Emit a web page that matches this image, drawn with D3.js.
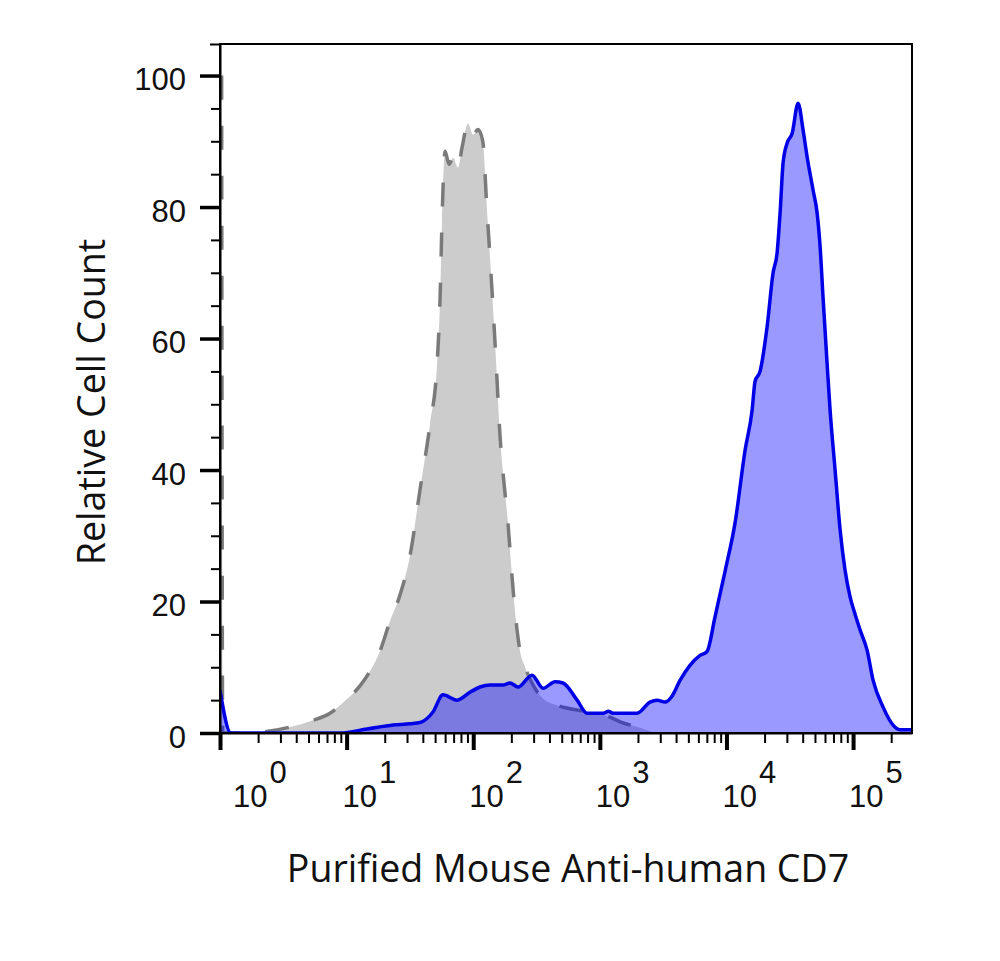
<!DOCTYPE html>
<html>
<head>
<meta charset="utf-8">
<script src="https://cdn.jsdelivr.net/npm/d3@7"></script>
<style>
  body { margin: 0; background: #fff; }
</style>
</head>
<body>
<div id="chart"></div>
<script>
// isotype control histogram (grey, dashed outline)
var greyX = [1.03, 1.05, 1.73, 2.48, 3.57, 5.14, 7.39, 9.71, 12.8, 15.3, 18.4, 22.0, 26.4, 31.7, 38.0, 45.6,
             51.8, 54.7, 56.7, 59.9, 64.4, 69.2, 75.9, 81.5, 90.9, 99.6, 109, 119, 128, 136, 143, 151,
             163, 175, 188, 202, 218, 234, 257, 291, 356, 443, 551, 661, 916, 1205, 1445, 2080, 2729];
var greyY = [100, 0, 0, 0.3, 0.9, 1.8, 3.0, 4.9, 7.2, 9.4, 12.5, 17, 21, 27, 37, 47,
             56, 66, 78, 88.5, 86.5, 87.5, 86, 89, 92.7, 91, 91.8, 90, 80, 72, 65, 57,
             45, 38, 32, 24, 17, 12.5, 10, 7.6, 5.2, 4.3, 3.8, 3.5, 3.0, 2.4, 1.7, 0.8, 0];

// CD7 stained histogram (blue)
var blueX = [1, 1.22, 8.87, 14.5, 23.3, 31.7, 38.0, 48.1, 57.7, 74.5, 94.2, 113, 136, 171, 195, 226,
             291, 356, 443, 512, 661, 794, 1066, 1170, 1271, 1968, 2490, 2830, 3273, 3715, 4296, 5150,
             6185, 7025, 8128, 9750, 11700, 14030, 15920, 16830, 18420, 20940, 23350, 25100, 26500, 28000, 30100, 33000,
             36800, 40300, 43300, 48300, 52000, 54900, 57900, 62300, 65800, 72100, 78900, 86500, 94700, 104000, 113500, 129000,
             144000, 173000, 207000, 235000, 292000];
var blueY = [6.5, 0, 0, 0.6, 1.2, 1.4, 1.6, 3.2, 5.8, 5.0, 6.2, 7.0, 7.3, 7.3, 7.6, 7.0,
             8.8, 6.8, 7.8, 7.6, 5.0, 3.0, 3.0, 3.3, 3.0, 3.0, 4.7, 5.0, 4.7, 5.6, 8.0, 10.3,
             11.8, 12.4, 17.7, 24.6, 32, 43, 49, 53.5, 55, 61.8, 70, 73, 79, 86.7, 89.7, 91.2,
             95.8, 91.7, 87.7, 82.6, 79.1, 74, 66.3, 56.3, 49.2, 40, 31, 24.7, 20.7, 18, 15.7, 12.6,
             8, 3.9, 1.2, 0.5, 0.5];

var yTicks = [0, 20, 40, 60, 80, 100];
var xDecades = [0, 1, 2, 3, 4, 5];
var xTitle = "Purified Mouse Anti-human CD7";
var yTitle = "Relative Cell Count";

var width = 1000;
var height = 961;
var plot = {"left": 220, "right": 912, "top": 44, "bottom": 733};
var numFont = "'Liberation Sans', Arial, sans-serif";
var titleFont = "'Open Sans', 'Noto Sans', sans-serif";

var svg = d3.select('#chart').append('svg')
    .attr('width', width)
    .attr('height', height);

var x = d3.scaleLog().domain([1, 292000]).range([plot.left, plot.right]);
var y = d3.scaleLinear().domain([0, 104.8]).range([plot.bottom, plot.top]);

var grey = greyX.map(function(v, i) { return [v, greyY[i]]; });
var blue = blueX.map(function(v, i) { return [v, blueY[i]]; });

svg.append("defs").append("clipPath")
    .attr("id", "plotclip")
    .append("rect")
    .attr("x", plot.left)
    .attr("y", plot.top)
    .attr("width", plot.right - plot.left)
    .attr("height", plot.bottom - plot.top);

var area = d3.area()
    .curve(d3.curveMonotoneX)
    .x(function(d) { return x(d[0]); })
    .y0(y(0))
    .y1(function(d) { return y(d[1]); });
var line = d3.line()
    .curve(d3.curveMonotoneX)
    .x(function(d) { return x(d[0]); })
    .y(function(d) { return y(d[1]); });

var g = svg.append("g").attr("clip-path", "url(#plotclip)");

g.append("path").datum(grey)
    .attr("d", area)
    .attr("fill", "#cccccc");
g.append("path").datum(grey)
    .attr("d", line)
    .attr("fill", "none")
    .attr("stroke", "#7a7a7a")
    .attr("stroke-width", 3.5)
    .attr("stroke-dasharray", "24,26");

g.append("path").datum(blue)
    .attr("d", area)
    .attr("fill", "#0000ff")
    .attr("fill-opacity", 0.4);
g.append("path").datum(blue)
    .attr("d", line)
    .attr("fill", "none")
    .attr("stroke", "#0000e6")
    .attr("stroke-width", 3.5)
    .attr("stroke-linejoin", "round");

// frame
svg.append("rect")
    .attr("x", plot.left)
    .attr("y", plot.top)
    .attr("width", plot.right - plot.left)
    .attr("height", plot.bottom - plot.top)
    .attr("fill", "none")
    .attr("stroke", "black")
    .attr("stroke-width", 2);

// y axis: minor ticks every 5, labelled ticks every 20
var yMinor = svg.append("g")
    .attr("transform", "translate(" + plot.left + ",0)")
    .call(d3.axisLeft(y).tickValues(d3.range(0, 105, 5)).tickSize(9).tickSizeOuter(10).tickFormat(""));
yMinor.selectAll("line").attr("stroke-width", 2);
yMinor.select(".domain").attr("stroke-width", 2);

var yMajor = svg.append("g")
    .attr("transform", "translate(" + plot.left + ",0)")
    .call(d3.axisLeft(y).tickValues(yTicks).tickSize(20).tickPadding(14));
yMajor.select(".domain").remove();
yMajor.selectAll("line").attr("stroke-width", 3.5);
yMajor.selectAll("text")
    .attr("dy", "0.46em")
    .attr("font-family", numFont)
    .attr("font-size", "31px")
    .attr("fill", "#111");

// x axis: log minor ticks and decade ticks
var minorVals = [];
xDecades.forEach(function(n) {
    for (var k = 2; k <= 9; k++) {
        var v = k * Math.pow(10, n);
        if (v <= x.domain()[1]) minorVals.push(v);
    }
});
var majorVals = xDecades.map(function(n) { return Math.pow(10, n); });

var xMinor = svg.append("g")
    .attr("transform", "translate(0," + plot.bottom + ")")
    .call(d3.axisBottom(x).tickValues(minorVals).tickSize(10).tickSizeOuter(0).tickFormat(""));
xMinor.selectAll("line").attr("stroke-width", 2);
xMinor.select(".domain").attr("stroke-width", 2);

var xMajor = svg.append("g")
    .attr("transform", "translate(0," + plot.bottom + ")")
    .call(d3.axisBottom(x).tickValues(majorVals).tickSize(17).tickSizeOuter(0).tickFormat(""));
xMajor.select(".domain").remove();
xMajor.selectAll("line").attr("stroke-width", 4);

var xLabels = svg.selectAll(".xlab")
    .data(xDecades)
    .enter()
    .append("text")
    .attr("class", "xlab")
    .attr("x", function(d) { return Math.max(x(Math.pow(10, d)) - 4, plot.left + 13); })
    .attr("y", 807)
    .attr("font-family", numFont)
    .attr("font-size", "31px")
    .attr("fill", "#111");
xLabels.append("tspan").text("10");
xLabels.append("tspan")
    .attr("dx", 2)
    .attr("dy", -24)
    .text(function(d) { return d; });

// titles, sized to the width they take in the reference
function fitText(sel, target) {
    var fs = parseFloat(sel.attr("font-size"));
    var len = sel.node().getComputedTextLength();
    sel.attr("font-size", (fs * target / len).toFixed(1) + "px");
}

var xt = svg.append("text")
    .attr("x", 568)
    .attr("y", 882)
    .attr("text-anchor", "middle")
    .attr("font-family", titleFont)
    .attr("font-size", "34px")
    .attr("fill", "#111")
    .text(xTitle);
fitText(xt, 563);

var yt = svg.append("text")
    .attr("transform", "translate(105,402) rotate(-90)")
    .attr("text-anchor", "middle")
    .attr("font-family", titleFont)
    .attr("font-size", "32px")
    .attr("fill", "#111")
    .text(yTitle);
fitText(yt, 327);
</script>
</body>
</html>
